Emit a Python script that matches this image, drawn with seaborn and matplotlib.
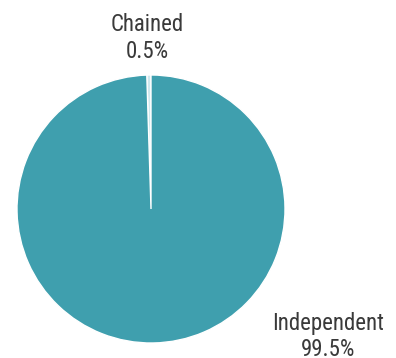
import matplotlib
matplotlib.use("Agg")
import matplotlib.pyplot as plt
import seaborn as sns

sns.set_theme(style="white")
plt.rcParams['font.family'] = ['Roboto Condensed', 'Liberation Sans Narrow', 'Roboto', 'DejaVu Sans']

categories = ["Chained", "Independent"]
values = [0.5, 99.5]
colors = ["#cfe8ee", "#3f9fae"]

W, H = 396, 358
fig = plt.figure(figsize=(W / 100, H / 100), dpi=100)
cx, cy, r = 151, 209, 134
ax = fig.add_axes([(cx - r) / W, (H - cy - r) / H, 2 * r / W, 2 * r / H])
wedges, _ = ax.pie(values, colors=colors, startangle=90, counterclock=True,
                   wedgeprops=dict(edgecolor="white", linewidth=1))
ax.set_xlim(-1, 1)
ax.set_ylim(-1, 1)
ax.axis("off")

# label anchor: (x center, first-line baseline, second-line baseline) in data units
label_pos = [(-0.026, 1.328, 1.127), (1.325, -0.905, -1.094)]
for cat, v, (x, y1, y2) in zip(categories, values, label_pos):
    kw = dict(ha="center", va="baseline", fontsize=16.5, color="#3a3a3a", clip_on=False)
    ax.text(x, y1, cat, **kw)
    ax.text(x, y2, f"{v:.1f}%", **kw)

fig.savefig("out.png", dpi=100)
